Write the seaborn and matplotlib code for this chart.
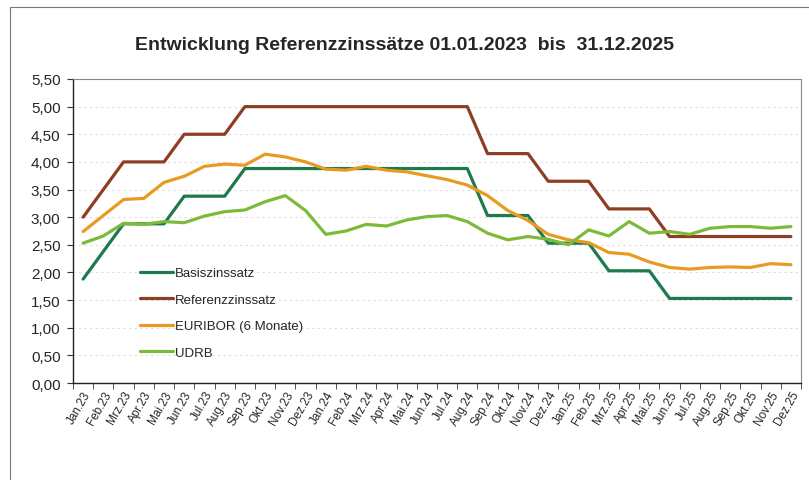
import pandas as pd
import matplotlib.pyplot as plt
import seaborn as sns
from matplotlib.patches import Rectangle

# Monatsachse
months = ["Jan", "Feb", "Mrz", "Apr", "Mai", "Jun", "Jul", "Aug", "Sep", "Okt", "Nov", "Dez"]
labels = [f"{m}.{y}" for y in ["23", "24", "25"] for m in months]

# Werte
basiszins = [1.88, 2.38, 2.88, 2.88, 2.88, 3.38, 3.38, 3.38, 3.88, 3.88, 3.88, 3.88,
             3.88, 3.88, 3.88, 3.88, 3.88, 3.88, 3.88, 3.88, 3.03, 3.03, 3.03, 2.53,
             2.53, 2.53, 2.03, 2.03, 2.03, 1.53, 1.53, 1.53, 1.53, 1.53, 1.53, 1.53]
referenzzins = [3.00, 3.50, 4.00, 4.00, 4.00, 4.50, 4.50, 4.50, 5.00, 5.00, 5.00, 5.00,
                5.00, 5.00, 5.00, 5.00, 5.00, 5.00, 5.00, 5.00, 4.15, 4.15, 4.15, 3.65,
                3.65, 3.65, 3.15, 3.15, 3.15, 2.65, 2.65, 2.65, 2.65, 2.65, 2.65, 2.65]
euribor = [2.74, 3.03, 3.32, 3.34, 3.63, 3.74, 3.92, 3.96, 3.94, 4.14, 4.09, 4.00,
           3.87, 3.85, 3.92, 3.85, 3.82, 3.75, 3.68, 3.58, 3.39, 3.12, 2.94, 2.69,
           2.59, 2.54, 2.36, 2.33, 2.19, 2.09, 2.06, 2.09, 2.10, 2.09, 2.16, 2.14]
udrb = [2.53, 2.66, 2.89, 2.87, 2.92, 2.90, 3.02, 3.10, 3.13, 3.28, 3.39, 3.12,
        2.69, 2.75, 2.87, 2.84, 2.95, 3.01, 3.03, 2.92, 2.71, 2.59, 2.65, 2.60,
        2.50, 2.77, 2.66, 2.92, 2.71, 2.74, 2.69, 2.80, 2.83, 2.83, 2.80, 2.83]

series = {
    "Basiszinssatz": basiszins,
    "Referenzzinssatz": referenzzins,
    "EURIBOR (6 Monate)": euribor,
    "UDRB": udrb,
}
colors = ["#1d7a4c", "#8c3f22", "#e99a22", "#7cbb3a"]

df = pd.DataFrame({"Monat": list(range(len(labels))) * len(series),
                   "Wert": sum(series.values(), []),
                   "Reihe": [k for k in series for _ in labels]})

sns.set_style("white")
plt.rcParams["font.family"] = ["Liberation Sans", "DejaVu Sans"]

fig = plt.figure(figsize=(8.09, 4.81), dpi=100)
ax = fig.add_axes([73 / 809, 1 - 384 / 481, 728 / 809, 304 / 481])

sns.lineplot(data=df, x="Monat", y="Wert", hue="Reihe", palette=colors,
             linewidth=2.3, ax=ax, legend=True)

ax.set_xlim(-0.5, len(labels) - 0.5)
ax.set_ylim(0, 5.5)
ax.set_yticks([i * 0.5 for i in range(12)])
ax.set_yticklabels([f"{i * 0.5:.2f}".replace(".", ",") for i in range(12)], fontsize=11)
ax.set_xticks(range(len(labels)))
ax.set_xticklabels(labels, rotation=60, ha="right", rotation_mode="anchor", fontsize=8.5)
ax.set_xticks([i - 0.5 for i in range(len(labels) + 1)], minor=True)
ax.tick_params(axis="x", which="major", length=0, pad=4)
ax.tick_params(axis="x", which="minor", length=4, direction="out", color="#333333", bottom=True)
ax.tick_params(axis="y", length=4, direction="out", color="#333333", left=True, pad=5)
ax.set_xlabel("")
ax.set_ylabel("")
ax.grid(axis="y", color="#dddddd", linestyle=(0, (2, 3)), linewidth=0.8)

for s in ["left", "bottom"]:
    ax.spines[s].set_color("#222222")
    ax.spines[s].set_linewidth(1.0)
for s in ["top", "right"]:
    ax.spines[s].set_color("#888888")
    ax.spines[s].set_linewidth(0.8)

leg = ax.legend(loc="upper left", bbox_to_anchor=(0.076, 0.42), frameon=False,
                fontsize=9.5, handlelength=2.5, handletextpad=0.1, labelspacing=1.08)

fig.text(0.5, 1 - 46 / 481, "Entwicklung Referenzzinssätze 01.01.2023  bis  31.12.2025",
         ha="center", va="center", fontsize=14, fontweight="bold")

# Rahmen um das Diagramm
fig.patches.append(Rectangle((10 / 809, -0.1), 1.0, 1 - 8 / 481 + 0.1,
                             transform=fig.transFigure, fill=False,
                             edgecolor="#777777", linewidth=0.8))

fig.savefig("out.png", dpi=100)
